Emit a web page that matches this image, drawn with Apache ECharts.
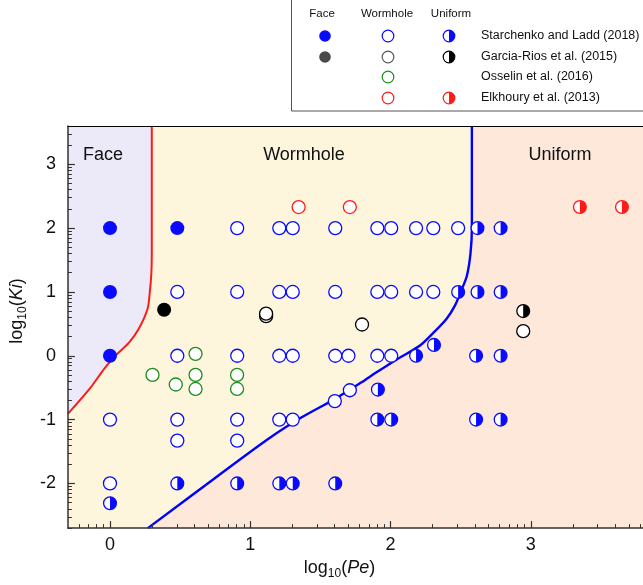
<!DOCTYPE html>
<html><head><meta charset="utf-8">
<script src="https://cdn.jsdelivr.net/npm/echarts@6/dist/echarts.min.js"></script>
<style>html,body{margin:0;padding:0;background:#fff}#c{width:643px;height:585px}</style>
</head><body><div id="c"></div>
<script>
// ---- data ----
const xTickLabels = [0, 1, 2, 3];
const yTickLabels = [-2, -1, 0, 1, 2, 3];
const xRange = [-0.3, 3.8];
const yRange = [-2.7, 3.6];

// regime boundaries
const redCurve = [[-0.3,-0.91],[-0.146,-0.52],[-0.04,-0.2],[0.038,0.0],[0.137,0.21],[0.204,0.42],[0.267,0.73],[0.284,1.0],[0.295,1.3],[0.298,1.6],[0.298,2.2],[0.298,3.6]];
const blueCurve = [[0.27,-2.7],[0.74,-1.93],[1.13,-1.30],[1.37,-0.96],[1.60,-0.68],[1.79,-0.42],[1.90,-0.26],[2.05,-0.05],[2.21,0.16],[2.31,0.37],[2.40,0.58],[2.46,0.79],[2.50,1.0],[2.544,1.25],[2.57,1.6],[2.58,2.0],[2.58,2.6],[2.58,3.6]];

// Starchenko and Ladd (2018)
const starFace = [[0,2],[0.48,2],[0,1],[0,0]];
const starWorm = [
  [0.907,2],[1.207,2],[1.303,2],[1.606,2],[1.906,2],[2.005,2],[2.182,2],[2.305,2],[2.482,2],
  [0.48,1],[0.907,1],[1.207,1],[1.303,1],[1.606,1],[1.906,1],[2.005,1],[2.182,1],[2.305,1],
  [0.48,0],[0.907,0],[1.207,0],[1.303,0],[1.606,0],[1.70,0],[1.906,0],[2.005,0],
  [0,-1],[0.48,-1],[0.907,-1],[1.207,-1],[1.303,-1],
  [0.48,-1.33],[0.907,-1.33],[1.71,-0.54],[1.603,-0.71],[0,-2]
];
const starUni = [
  [2.62,2],[2.785,2],
  [2.482,1],[2.62,1],[2.785,1],
  [2.182,0],[2.61,0],[2.785,0],[2.31,0.17],[1.91,-0.53],
  [1.906,-1],[2.005,-1],[2.61,-1],[2.785,-1],
  [0.48,-2],[0.907,-2],[1.207,-2],[1.303,-2],[1.606,-2],[0,-2.31]
];
// Garcia-Rios et al. (2015)
const garciaFace = [[0.386,0.72]];
const garciaWorm = [[1.113,0.62],[1.113,0.66],[1.797,0.49],[2.946,0.386]];
const garciaUni = [[2.946,0.70]];
// Osselin et al. (2016)
const osselinWorm = [[0.61,0.03],[0.303,-0.30],[0.469,-0.45],[0.61,-0.30],[0.61,-0.52],[0.906,-0.30],[0.906,-0.52]];
// Elkhoury et al. (2013)
const elkWorm = [[1.345,2.33],[1.71,2.33]];
const elkUni = [[3.35,2.33],[3.65,2.33]];

// ---- styling ----
const BLUE = '#0a0aff', RED = '#ff1a1a', GREEN = '#1e8c1e', BLACK = '#000000';
const FONT = "'Liberation Sans', Arial, sans-serif";

function minorTicks(lo, hi) {
  const out = [];
  for (let d = Math.floor(lo) - 1; d <= Math.ceil(hi); d++) {
    for (let k = 2; k <= 9; k++) { const v = d + Math.log10(k); if (v > lo && v < hi) out.push(+v.toFixed(4)); }
  }
  return out;
}

const chart = echarts.init(document.getElementById('c'), null, {renderer: 'canvas'});

function openScatter(name, data, color) {
  return {type: 'scatter', name, data, symbol: 'circle', symbolSize: 13, z: 15,
    itemStyle: {color: '#ffffff', borderColor: color, borderWidth: 1.3, opacity: 1}, silent: true};
}
function filledScatter(name, data, color) {
  return {type: 'scatter', name, data, symbol: 'circle', symbolSize: 14, z: 15,
    itemStyle: {color: color, opacity: 1}, silent: true};
}
function halfSeries(name, data, color) {
  return {type: 'custom', name, data, z: 16, silent: true, encode: {x: 0, y: 1},
    renderItem: function (params, api) {
      const p = api.coord([api.value(0), api.value(1)]);
      const r = 6.4;
      return {type: 'group', children: [
        {type: 'circle', shape: {cx: p[0], cy: p[1], r: r}, style: {fill: '#fff', stroke: color, lineWidth: 1.3}},
        {type: 'sector', shape: {cx: p[0], cy: p[1], r0: 0, r: r, startAngle: -Math.PI/2, endAngle: Math.PI/2, clockwise: true}, style: {fill: color}}
      ]};
    }};
}

const richName = {
  sub: {fontSize: 12, fontFamily: FONT, color: '#111', verticalAlign: 'bottom', lineHeight: 12},
  it: {fontSize: 18, fontFamily: FONT, color: '#111', fontStyle: 'italic', lineHeight: 24},
  n: {fontSize: 18, fontFamily: FONT, color: '#111', lineHeight: 24}
};

// legend graphics
const LX = {face: 325, worm: 388, uni: 449};
const LY = [36, 57, 77, 98];
function lgCircle(x, y, fill, stroke) {
  return {type: 'circle', shape: {cx: x, cy: y, r: 5.8}, style: {fill: fill, stroke: stroke, lineWidth: stroke ? 1.2 : 0}};
}
function lgHalf(x, y, color) {
  return {type: 'group', children: [
    {type: 'circle', shape: {cx: x, cy: y, r: 5.8}, style: {fill: '#fff', stroke: color, lineWidth: 1.2}},
    {type: 'sector', shape: {cx: x, cy: y, r0: 0, r: 5.8, startAngle: -Math.PI/2, endAngle: Math.PI/2, clockwise: true}, style: {fill: color}}
  ]};
}
function lgText(x, y, t, align, size) {
  return {type: 'text', x: x, y: y, style: {text: t, fill: '#111', font: (size || 12.5) + 'px ' + FONT, align: align || 'left', verticalAlign: 'middle'}};
}

const legendEls = [
  {type: 'rect', shape: {x: 291.5, y: -5, width: 360, height: 116}, style: {fill: '#fff', stroke: '#555', lineWidth: 1}},
  lgText(322, 14, 'Face', 'center', 11.5), lgText(387, 14, 'Wormhole', 'center', 11.5), lgText(451, 14, 'Uniform', 'center', 11.5),
  lgCircle(LX.face, LY[0], BLUE), lgCircle(LX.worm, LY[0], '#fff', BLUE), lgHalf(LX.uni, LY[0], BLUE), lgText(481, LY[0], 'Starchenko and Ladd (2018)'),
  lgCircle(LX.face, LY[1], '#4a4a4a'), lgCircle(LX.worm, LY[1], '#fff', '#555'), lgHalf(LX.uni, LY[1], BLACK), lgText(481, LY[1], 'Garcia-Rios et al. (2015)'),
  lgCircle(LX.worm, LY[2], '#fff', GREEN), lgText(481, LY[2], 'Osselin et al. (2016)'),
  lgCircle(LX.worm, LY[3], '#fff', RED), lgHalf(LX.uni, LY[3], RED), lgText(481, LY[3], 'Elkhoury et al. (2013)')
];
const regionLabels = [
  {type: 'text', x: 103, y: 155, z: 50, style: {text: 'Face', fill: '#111', font: '18px ' + FONT, align: 'center', verticalAlign: 'middle'}},
  {type: 'text', x: 304, y: 155, z: 50, style: {text: 'Wormhole', fill: '#111', font: '18px ' + FONT, align: 'center', verticalAlign: 'middle'}},
  {type: 'text', x: 560, y: 155, z: 50, style: {text: 'Uniform', fill: '#111', font: '18px ' + FONT, align: 'center', verticalAlign: 'middle'}}
];

const axisLineStyle = {color: '#333', width: 1.5};
const option = {
  animation: false,
  backgroundColor: '#ffffff',
  grid: {left: 65, top: 126, width: 578, height: 404, show: true, backgroundColor: '#FDF5DC', borderWidth: 0},
  xAxis: [
    {type: 'value', z: 10, min: xRange[0], max: xRange[1], position: 'bottom', splitLine: {show: false},
      axisLine: {show: true, onZero: false, lineStyle: axisLineStyle},
      axisTick: {show: true, inside: true, length: 7, customValues: xTickLabels, lineStyle: {color: '#333', width: 1.2}},
      axisLabel: {customValues: xTickLabels, fontSize: 18, fontFamily: FONT, color: '#111', margin: 8},
      name: '{n|log}{sub|10}{n|(}{it|Pe}{n|)}', nameLocation: 'middle', nameGap: 27,
      nameTextStyle: {rich: richName, padding: [0, 32, 0, 0]}},
    {type: 'value', z: 10, min: xRange[0], max: xRange[1], position: 'bottom', splitLine: {show: false},
      axisLine: {show: false, onZero: false},
      axisTick: {show: true, inside: true, length: 4, customValues: minorTicks(xRange[0], xRange[1]), lineStyle: {color: '#333', width: 1}},
      axisLabel: {show: false}},
    {type: 'value', z: 10, min: xRange[0], max: xRange[1], position: 'top', splitLine: {show: false},
      axisLine: {show: true, onZero: false, lineStyle: {color: '#000', width: 1.2}}, axisTick: {show: false}, axisLabel: {show: false}}
  ],
  yAxis: [
    {type: 'value', z: 10, min: yRange[0], max: yRange[1], position: 'left', splitLine: {show: false},
      axisLine: {show: true, onZero: false, lineStyle: axisLineStyle},
      axisTick: {show: true, inside: true, length: 7, customValues: yTickLabels, lineStyle: {color: '#333', width: 1.2}},
      axisLabel: {customValues: yTickLabels, fontSize: 18, fontFamily: FONT, color: '#111', margin: 12},
      name: '{n|log}{sub|10}{n|(}{it|Ki}{n|)}', nameLocation: 'middle', nameGap: 32, nameRotate: 90,
      nameTextStyle: {rich: richName, padding: [0, 0, 0, 32]}},
    {type: 'value', z: 10, min: yRange[0], max: yRange[1], position: 'left', splitLine: {show: false},
      axisLine: {show: false, onZero: false},
      axisTick: {show: true, inside: true, length: 4, customValues: minorTicks(yRange[0], yRange[1]), lineStyle: {color: '#333', width: 1}},
      axisLabel: {show: false}}
  ],
  graphic: legendEls.concat(regionLabels),
  series: [
    {type: 'line', name: 'faceArea', data: redCurve, smooth: 0.3, symbol: 'none', silent: true, z: 1,
      lineStyle: {opacity: 0}, areaStyle: {color: '#ECEAF8', opacity: 1, origin: 'end'}},
    {type: 'line', name: 'uniformArea', data: blueCurve.concat([[xRange[1], yRange[1]]]), smooth: 0.3, symbol: 'none', silent: true, z: 1,
      lineStyle: {opacity: 0}, areaStyle: {color: '#FDE8DA', opacity: 1, origin: 'start'}},
    {type: 'line', name: 'faceBoundary', data: redCurve, smooth: 0.3, symbol: 'none', silent: true, z: 3,
      lineStyle: {color: RED, width: 2}},
    {type: 'line', name: 'uniformBoundary', data: blueCurve, smooth: 0.3, symbol: 'none', silent: true, z: 3,
      lineStyle: {color: '#0000ff', width: 2.4}},
    filledScatter('Starchenko face', starFace, BLUE),
    openScatter('Starchenko wormhole', starWorm, BLUE),
    halfSeries('Starchenko uniform', starUni, BLUE),
    filledScatter('Garcia face', garciaFace, BLACK),
    openScatter('Garcia wormhole', garciaWorm, BLACK),
    halfSeries('Garcia uniform', garciaUni, BLACK),
    openScatter('Osselin wormhole', osselinWorm, GREEN),
    openScatter('Elkhoury wormhole', elkWorm, RED),
    halfSeries('Elkhoury uniform', elkUni, RED)
  ]
};
chart.setOption(option);
</script></body></html>
